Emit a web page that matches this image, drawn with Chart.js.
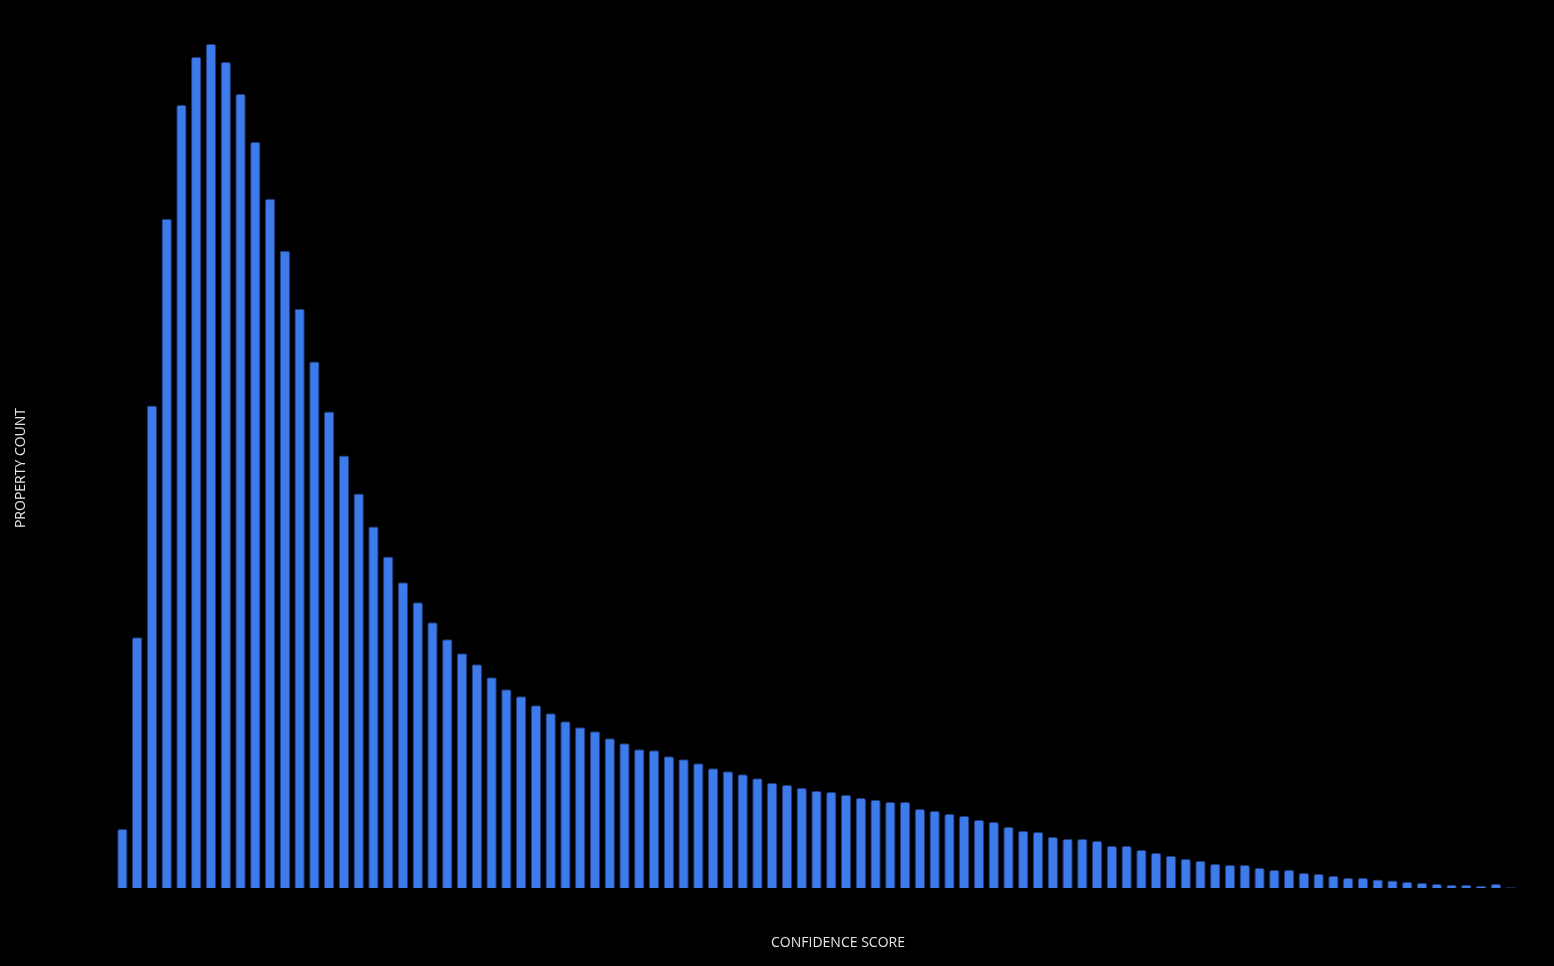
<!DOCTYPE html>
<html>
<head>
<meta charset="utf-8">
<script src="https://cdn.jsdelivr.net/npm/chart.js@4"></script>
<style>
  html, body { margin: 0; padding: 0; background: #000; overflow: hidden; }
  #wrap { width: 1554px; height: 966px; }
</style>
</head>
<body>
<div id="wrap"><canvas id="michart"></canvas></div>
<script>
// confidence score bins
const puntajes = [
   1,  2,  3,  4,  5,  6,  7,  8,  9, 10, 11, 12, 13, 14, 15, 16, 17, 18, 19, 20,
  21, 22, 23, 24, 25, 26, 27, 28, 29, 30, 31, 32, 33, 34, 35, 36, 37, 38, 39, 40,
  41, 42, 43, 44, 45, 46, 47, 48, 49, 50, 51, 52, 53, 54, 55, 56, 57, 58, 59, 60,
  61, 62, 63, 64, 65, 66, 67, 68, 69, 70, 71, 72, 73, 74, 75, 76, 77, 78, 79, 80,
  81, 82, 83, 84, 85, 86, 87, 88, 89, 90, 91, 92, 93, 94, 95
]
// property count per bin
const cantidades = [
  59, 251, 483, 670, 784, 832, 845, 827, 795, 747,
  690, 638, 580, 527, 477, 433, 395, 362, 332, 306,
  286, 266, 249, 235, 224, 211, 199, 192, 183, 175,
  167, 161, 157, 150, 145, 139, 138, 132, 129, 125,
  120, 117, 114, 110, 105, 103, 100, 97, 96, 93,
  90, 88, 86, 86, 79, 77, 74, 72, 68, 66,
  61, 57, 56, 51, 49, 49, 47, 42, 42, 38,
  35, 32, 29, 27, 24, 23, 23, 20, 18, 18,
  15, 14, 12, 10, 10, 8.5, 7.5, 6, 5, 4,
  3, 3, 2, 4, 0.7
]
const tituloX = 'CONFIDENCE SCORE'
const tituloY = 'PROPERTY COUNT'

// axis titles drawn by hand so they sit where the original has them
const titulos = {
  id: 'titulos',
  afterDraw(chart) {
    const ctx = chart.ctx
    ctx.save()
    ctx.fillStyle = '#e6e6e6'
    ctx.font = '14px "Open Sans"'
    ctx.textAlign = 'center'
    ctx.textBaseline = 'middle'
    ctx.fillText(tituloX, 838, 943)
    ctx.translate(21, 468)
    ctx.rotate(-Math.PI / 2)
    ctx.fillText(tituloY, 0, 0)
    ctx.restore()
  }
}

const data = {
  labels: puntajes,
  datasets: [{
    label: tituloY,
    data: cantidades,
    backgroundColor: 'rgb(61, 122, 234)',
    borderColor: 'rgb(30, 62, 125)',
    borderWidth: 1,
    borderRadius: { topLeft: 2, topRight: 2 },
    borderSkipped: 'bottom',
    categoryPercentage: 1,
    barPercentage: 0.7
  }]
}

const config = {
  type: 'bar',
  data,
  options: {
    responsive: true,
    maintainAspectRatio: false,
    animation: false,
    layout: {
      padding: { left: 115, right: 36, top: 44, bottom: 78 }
    },
    plugins: {
      legend: { display: false },
      tooltip: { enabled: false }
    },
    scales: {
      x: { display: false, offset: true },
      y: { display: false, min: 0, max: Math.max(...cantidades) }
    }
  },
  plugins: [titulos]
}

document.addEventListener('DOMContentLoaded', () => {
  const chart1 = new Chart(document.getElementById('michart'), config)
})
</script>
</body>
</html>
